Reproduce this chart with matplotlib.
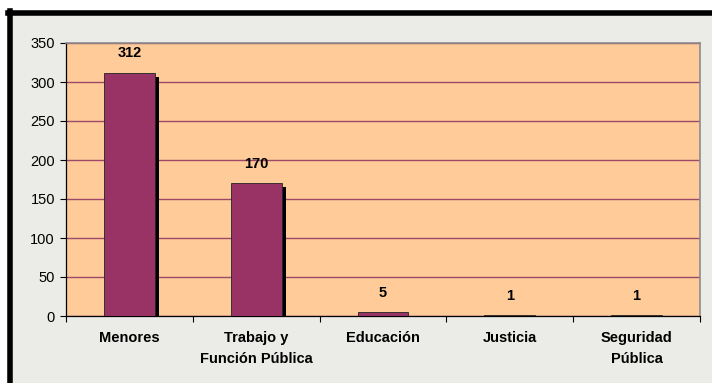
import matplotlib.pyplot as plt
from matplotlib.patches import Rectangle
from matplotlib.lines import Line2D
from matplotlib.transforms import ScaledTranslation

# datos del grafico
categorias = ["Menores", "Trabajo y\nFunción Pública", "Educación", "Justicia", "Seguridad\nPública"]
valores = [312, 170, 5, 1, 1]
yticks = [0, 50, 100, 150, 200, 250, 300, 350]

plt.rcParams['font.family'] = ['Liberation Sans', 'DejaVu Sans']

fig = plt.figure(figsize=(7.12, 3.83), dpi=100)
fig.patch.set_facecolor('white')

W, H = 712, 383

# fondo gris del grafico con marco negro arriba e izquierda
fig.add_artist(Rectangle((10 / W, 0), 1, 1 - 13 / H, transform=fig.transFigure,
                         facecolor='#ebebe7', edgecolor='none', zorder=0))
fig.add_artist(Line2D([10 / W, 10 / W], [0, 1 - 11 / H], transform=fig.transFigure,
                      color='black', lw=4, zorder=1))
fig.add_artist(Line2D([8 / W, 1], [1 - 13 / H, 1 - 13 / H], transform=fig.transFigure,
                      color='black', lw=4, zorder=1))

ax = fig.add_axes([66 / W, (H - 316) / H, 634 / W, 273 / H])
ax.set_facecolor('#ffcc99')

x = list(range(len(categorias)))

# sombra negra desplazada
sombra = ax.transData + ScaledTranslation(4 / 100, -4 / 100, fig.dpi_scale_trans)
ax.bar(x, valores, width=0.4, color='black', transform=sombra, zorder=2)
ax.bar(x, valores, width=0.4, color='#993366', edgecolor='#222222', linewidth=0.6, zorder=3)

for xi, v in zip(x, valores):
    ax.annotate(str(v), (xi, v), xytext=(0, 9), textcoords='offset points',
                ha='center', va='bottom', fontsize=10.5, fontweight='bold', zorder=4)

ax.set_xlim(-0.5, len(categorias) - 0.5)
ax.set_ylim(0, 350)
ax.set_yticks(yticks)
ax.yaxis.grid(True, color='#9c4868', lw=1)
ax.set_axisbelow(True)

# ticks en los limites de categoria, etiquetas en el centro
ax.set_xticks([i - 0.5 for i in range(len(categorias) + 1)])
ax.set_xticklabels([])
ax.set_xticks(x, minor=True)
ax.set_xticklabels(categorias, minor=True, fontsize=10.5, fontweight='bold', linespacing=1.6)
ax.tick_params(axis='x', which='major', direction='out', length=4, width=0.8)
ax.tick_params(axis='x', which='minor', length=0, pad=11)
ax.tick_params(axis='y', direction='out', length=4, width=0.8, labelsize=10.5, pad=4)

for s in ['top', 'right']:
    ax.spines[s].set_color('#8c8c8c')
    ax.spines[s].set_linewidth(1.2)
for s in ['left', 'bottom']:
    ax.spines[s].set_color('black')
    ax.spines[s].set_linewidth(0.9)

fig.savefig('out.png', dpi=100)
